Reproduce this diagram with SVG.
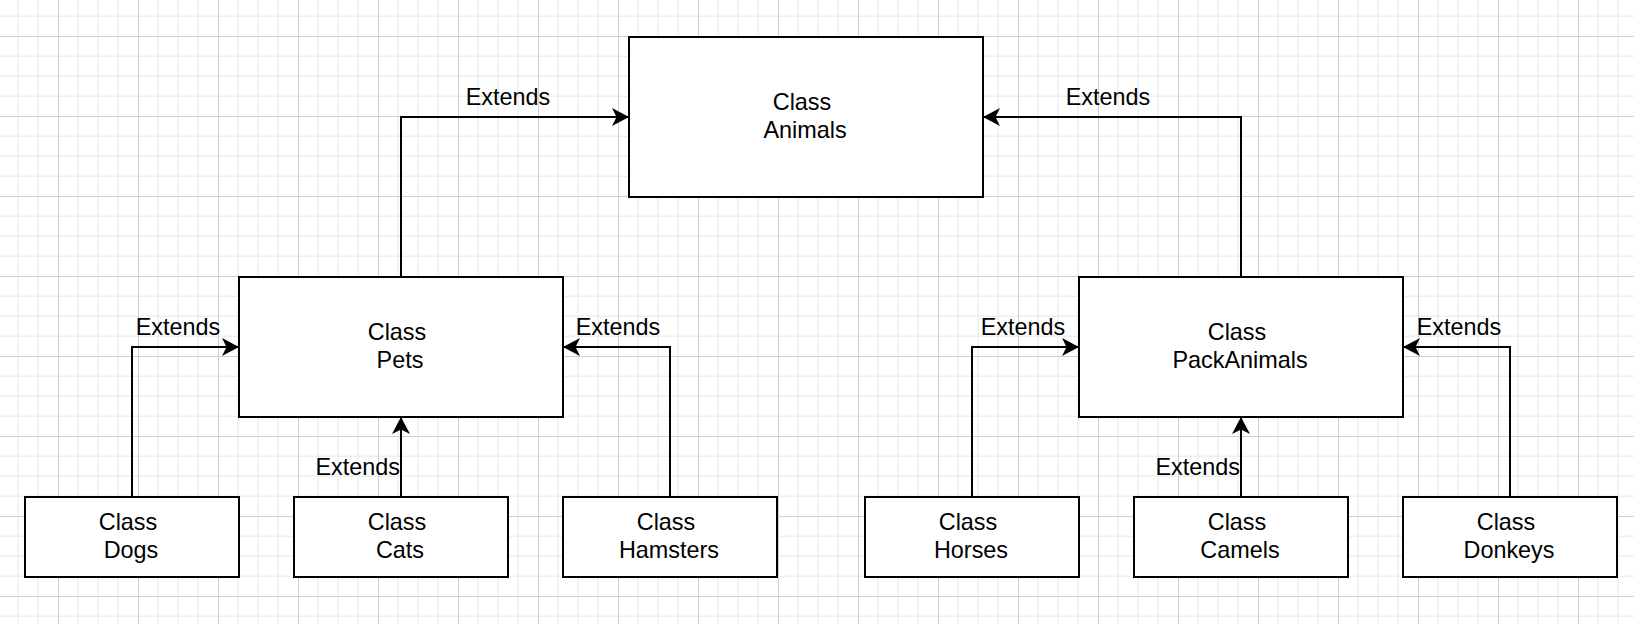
<svg xmlns="http://www.w3.org/2000/svg" width="1634" height="624" viewBox="0 0 1634 624">
  <style>
    .box { fill: #ffffff; stroke: #000000; stroke-width: 2; }
    .txt { font-family: "Liberation Sans", Arial, Helvetica, sans-serif; font-size: 23.4px; fill: #000000; text-anchor: middle; }
    .lbl { font-family: "Liberation Sans", Arial, Helvetica, sans-serif; font-size: 23.4px; fill: #000000; text-anchor: middle; }
    .lbl-end { text-anchor: end; }
    .edge { fill: none; stroke: #000000; stroke-width: 2; marker-end: url(#arrow); }
  </style>
  <defs>
    <pattern id="grid" patternUnits="userSpaceOnUse" x="58" y="36" width="80" height="80">
      <rect x="0" y="0" width="80" height="80" fill="#ffffff"/>
      <g fill="#efefef">
        <rect x="19.5" y="0" width="1.5" height="80"/>
        <rect x="39.5" y="0" width="1.5" height="80"/>
        <rect x="59.5" y="0" width="1.5" height="80"/>
        <rect x="0" y="19.5" width="80" height="1.5"/>
        <rect x="0" y="39.5" width="80" height="1.5"/>
        <rect x="0" y="59.5" width="80" height="1.5"/>
      </g>
      <g fill="#d0d0d0">
        <rect x="0" y="0" width="1" height="80"/>
        <rect x="0" y="0" width="80" height="1"/>
      </g>
    </pattern>
    <marker id="arrow" markerUnits="userSpaceOnUse" viewBox="-19 -10 20 20" refX="0" refY="0" markerWidth="20" markerHeight="20" orient="auto">
      <path d="M0,0 L-17,-9 L-12.5,0 L-17,9 Z" fill="#000000"/>
    </marker>
  </defs>

  <rect x="0" y="0" width="1634" height="624" fill="url(#grid)"/>

  <g id="connectors">
    <path class="edge" d="M401,277 V117 H629"/>
    <path class="edge" d="M1241,277 V117 H983"/>
    <path class="edge" d="M132,497 V347 H239"/>
    <path class="edge" d="M401,497 V417"/>
    <path class="edge" d="M670,497 V347 H563"/>
    <path class="edge" d="M972,497 V347 H1079"/>
    <path class="edge" d="M1241,497 V417"/>
    <path class="edge" d="M1510,497 V347 H1403"/>
    <text class="lbl" x="508" y="105">Extends</text>
    <text class="lbl" x="1108" y="105">Extends</text>
    <text class="lbl" x="178" y="335">Extends</text>
    <text class="lbl lbl-end" x="400" y="475">Extends</text>
    <text class="lbl" x="618" y="335">Extends</text>
    <text class="lbl" x="1023" y="335">Extends</text>
    <text class="lbl lbl-end" x="1240" y="475">Extends</text>
    <text class="lbl" x="1459" y="335">Extends</text>
  </g>

  <g id="animals">
    <rect class="box" x="629" y="37" width="354" height="160"/>
    <text class="txt"><tspan x="802" y="110">Class</tspan><tspan x="805" y="138">Animals</tspan></text>
  </g>
  <g id="pets">
    <rect class="box" x="239" y="277" width="324" height="140"/>
    <text class="txt"><tspan x="397" y="340">Class</tspan><tspan x="400" y="368">Pets</tspan></text>
  </g>
  <g id="packanimals">
    <rect class="box" x="1079" y="277" width="324" height="140"/>
    <text class="txt"><tspan x="1237" y="340">Class</tspan><tspan x="1240" y="368">PackAnimals</tspan></text>
  </g>
  <g id="dogs">
    <rect class="box" x="25" y="497" width="214" height="80"/>
    <text class="txt"><tspan x="128" y="530">Class</tspan><tspan x="131" y="558">Dogs</tspan></text>
  </g>
  <g id="cats">
    <rect class="box" x="294" y="497" width="214" height="80"/>
    <text class="txt"><tspan x="397" y="530">Class</tspan><tspan x="400" y="558">Cats</tspan></text>
  </g>
  <g id="hamsters">
    <rect class="box" x="563" y="497" width="214" height="80"/>
    <text class="txt"><tspan x="666" y="530">Class</tspan><tspan x="669" y="558">Hamsters</tspan></text>
  </g>
  <g id="horses">
    <rect class="box" x="865" y="497" width="214" height="80"/>
    <text class="txt"><tspan x="968" y="530">Class</tspan><tspan x="971" y="558">Horses</tspan></text>
  </g>
  <g id="camels">
    <rect class="box" x="1134" y="497" width="214" height="80"/>
    <text class="txt"><tspan x="1237" y="530">Class</tspan><tspan x="1240" y="558">Camels</tspan></text>
  </g>
  <g id="donkeys">
    <rect class="box" x="1403" y="497" width="214" height="80"/>
    <text class="txt"><tspan x="1506" y="530">Class</tspan><tspan x="1509" y="558">Donkeys</tspan></text>
  </g>
</svg>
